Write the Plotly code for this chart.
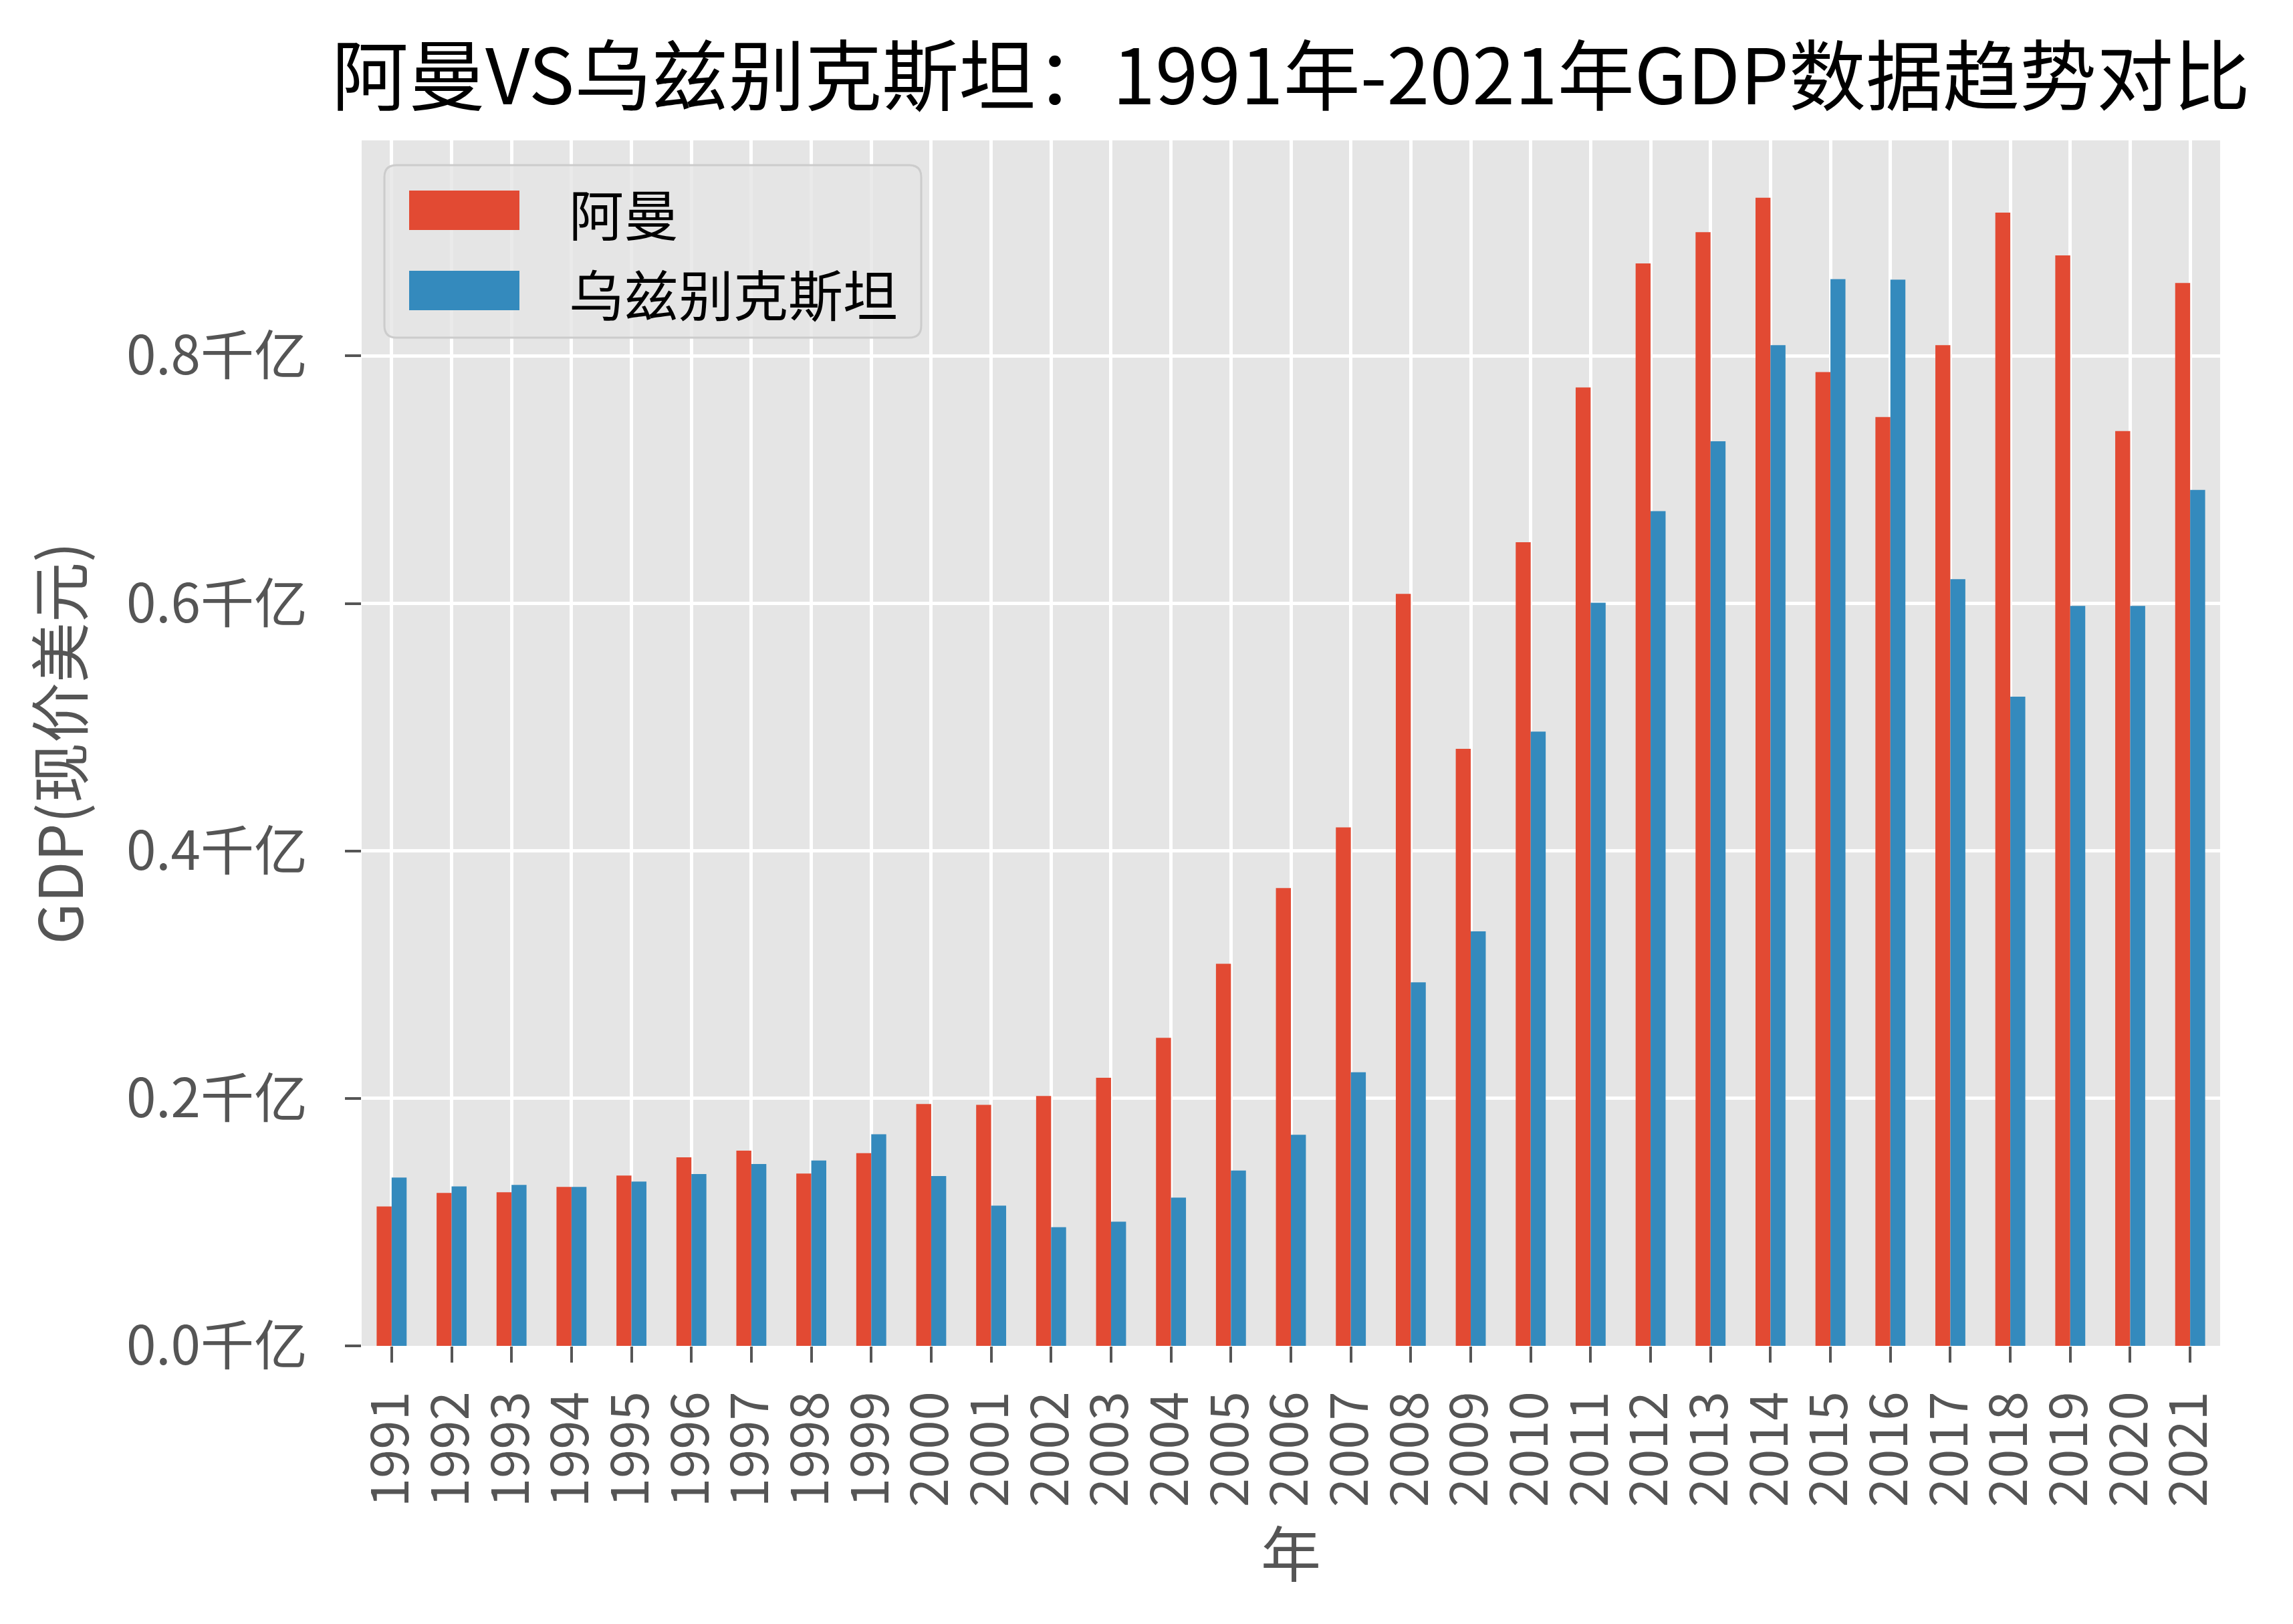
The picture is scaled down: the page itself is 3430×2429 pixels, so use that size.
import plotly.graph_objects as go

# ---------------- data ----------------
years = [str(y) for y in range(1991, 2022)]
oman = [0.1127, 0.1236, 0.1242, 0.1284, 0.1377, 0.1524, 0.1578, 0.1393, 0.1557, 0.1954,
        0.1948, 0.2019, 0.2166, 0.2489, 0.3088, 0.3700, 0.4190, 0.6077, 0.4825, 0.6495,
        0.7745, 0.8748, 0.9000, 0.9278, 0.7870, 0.7506, 0.8087, 0.9158, 0.8812, 0.7393, 0.8590]
uzbekistan = [0.1360, 0.1289, 0.1301, 0.1284, 0.1328, 0.1389, 0.1469, 0.1498, 0.1710, 0.1372,
              0.1133, 0.0959, 0.1003, 0.1198, 0.1417, 0.1706, 0.2211, 0.2938, 0.3350, 0.4964,
              0.6005, 0.6746, 0.7310, 0.8087, 0.8621, 0.8617, 0.6196, 0.5247, 0.5980, 0.5980, 0.6918]
series_names = ["阿曼", "乌兹别克斯坦"]
series_colors = ["#E24A33", "#348ABD"]
y_ticks = [0.0, 0.2, 0.4, 0.6, 0.8]
y_tick_labels = ["0.0千亿", "0.2千亿", "0.4千亿", "0.6千亿", "0.8千亿"]
title_text = "阿曼VS乌兹别克斯坦：1991年-2021年GDP数据趋势对比"
x_title = "年"
y_title = "GDP(现价美元)"

# ---------------- layout geometry ----------------
W, H = 3430, 2429
OFF = 8  # page body margin offset
L, R, T, B = 541, 3321, 210, 2013
FONT = "Noto Sans CJK SC"
GRAY = "#555555"


def fx(px):
    return (px - L) / (R - L)


def fy(py):
    return (B - py) / (B - T)


fig = go.Figure()
for name, vals, col in zip(series_names, [oman, uzbekistan], series_colors):
    fig.add_trace(go.Bar(x=years, y=vals, name=name, marker_color=col,
                         marker_line_width=0, showlegend=False))

ymax = max(max(oman), max(uzbekistan)) * 1.05

fig.update_layout(
    width=W, height=H,
    margin=dict(l=L - OFF, r=W - (R - OFF), t=T - OFF, b=H - (B - OFF), autoexpand=False),
    paper_bgcolor="white",
    plot_bgcolor="#E5E5E5",
    barmode="group", bargap=0.5, bargroupgap=0.0,
    font=dict(family=FONT, color=GRAY),
    title=dict(text=title_text, x=0.5, xref="paper", xanchor="center",
               y=1 - (116 - OFF) / H, yref="container", yanchor="middle",
               font=dict(family=FONT, size=115, color="black")),
    xaxis=dict(type="category", range=[-0.5, len(years) - 0.5],
               tickmode="array", tickvals=years, ticktext=years,
               showgrid=True, gridcolor="white", gridwidth=5,
               ticks="outside", ticklen=24, tickwidth=4, tickcolor=GRAY,
               tickangle=-90, tickfont=dict(family=FONT, size=78, color=GRAY),
               ticklabelstandoff=12,
               showline=False, zeroline=False,
               title=dict(text=x_title, standoff=22,
                          font=dict(family=FONT, size=90, color=GRAY))),
    yaxis=dict(range=[0, ymax], tickmode="array", tickvals=y_ticks, ticktext=y_tick_labels,
               showgrid=True, gridcolor="white", gridwidth=5,
               ticks="outside", ticklen=24, tickwidth=4, tickcolor=GRAY,
               tickfont=dict(family=FONT, size=80, color=GRAY),
               ticklabelstandoff=40,
               showline=False, zeroline=False,
               title=dict(text=y_title, standoff=34,
                          font=dict(family=FONT, size=90, color=GRAY))),
)

# ---------------- legend (matplotlib-style, large patches) ----------------
bx0, bx1, by0, by1, rad = 575, 1378, 247, 505, 18
rx, ry = rad / (R - L), rad / (B - T)
X0, X1, Y0, Y1 = fx(bx0), fx(bx1), fy(by1), fy(by0)
path = (f"M{X0 + rx},{Y0} L{X1 - rx},{Y0} Q{X1},{Y0} {X1},{Y0 + ry} "
        f"L{X1},{Y1 - ry} Q{X1},{Y1} {X1 - rx},{Y1} L{X0 + rx},{Y1} "
        f"Q{X0},{Y1} {X0},{Y1 - ry} L{X0},{Y0 + ry} Q{X0},{Y0} {X0 + rx},{Y0} Z")
fig.add_shape(type="path", path=path, xref="paper", yref="paper",
              fillcolor="rgba(229,229,229,0.8)", line=dict(color="#CCCCCC", width=3),
              layer="above")
for i, (name, col) in enumerate(zip(series_names, series_colors)):
    cy = 314.5 + i * 120
    fig.add_shape(type="rect", xref="paper", yref="paper",
                  x0=fx(612), x1=fx(777), y0=fy(cy + 29.5), y1=fy(cy - 29.5),
                  fillcolor=col, line=dict(width=0), layer="above")
    fig.add_annotation(text=name, xref="paper", yref="paper", x=fx(849), y=fy(cy + 3),
                       xanchor="left", yanchor="middle", showarrow=False,
                       font=dict(family=FONT, size=82, color="black"))

fig.write_html("out.html")
